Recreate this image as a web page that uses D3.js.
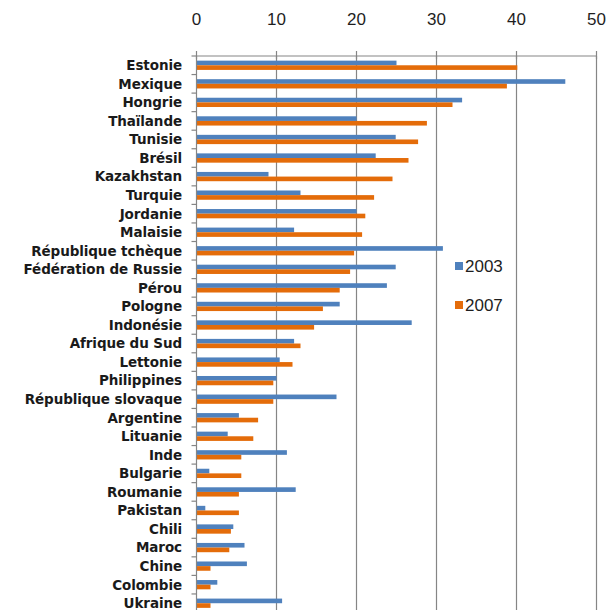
<!DOCTYPE html>
<html>
<head>
<meta charset="utf-8">
<script src="https://cdn.jsdelivr.net/npm/d3@7"></script>
<style>
  body { margin: 0; background: #fff; }
  svg { display: block; }
</style>
</head>
<body>
<div id="chart"></div>
<script>
// countries, top to bottom
const countries = [
  "Estonie", "Mexique", "Hongrie", "Thaïlande", "Tunisie", "Brésil",
  "Kazakhstan", "Turquie", "Jordanie", "Malaisie", "République tchèque",
  "Fédération de Russie", "Pérou", "Pologne", "Indonésie", "Afrique du Sud",
  "Lettonie", "Philippines", "République slovaque", "Argentine", "Lituanie",
  "Inde", "Bulgarie", "Roumanie", "Pakistan", "Chili", "Maroc", "Chine",
  "Colombie", "Ukraine"
]
const years = ["2003", "2007"]
const values2003 = [
  25, 46.1, 33.2, 20, 24.9, 22.4, 9, 13, 20, 12.2, 30.8, 24.9, 23.8, 17.9,
  26.9, 12.2, 10.4, 10, 17.5, 5.3, 3.9, 11.3, 1.6, 12.4, 1.1, 4.6, 6, 6.3,
  2.6, 10.7
]
const values2007 = [
  40.1, 38.8, 32, 28.8, 27.7, 26.5, 24.5, 22.2, 21.1, 20.7, 19.7, 19.2, 17.9,
  15.8, 14.7, 13, 12, 9.6, 9.6, 7.7, 7.1, 5.6, 5.6, 5.3, 5.3, 4.3, 4.1, 1.75,
  1.75, 1.75
]
const xTicks = [0, 10, 20, 30, 40, 50]

const colors = { "2003": "#4f81bd", "2007": "#e46c0a" }

const width = 613
const height = 610
const plotTop = 56
const step = 18.55

const svg = d3.select("#chart")
  .append("svg")
  .attr("width", width)
  .attr("height", height)

const x = d3.scaleLinear().domain([0, 50]).range([196.5, 596.5])

const y = d3.scaleBand()
  .domain(countries)
  .range([plotTop, plotTop + step * countries.length])
  .paddingInner(0.5)
  .paddingOuter(0.25)

const ySub = d3.scaleBand().domain(years).range([0, y.bandwidth()])

const plotBottom = plotTop + step * countries.length

// vertical gridlines
svg.append("g")
  .selectAll("line")
  .data(xTicks.slice(1))
  .enter()
  .append("line")
  .attr("x1", d => x(d))
  .attr("x2", d => x(d))
  .attr("y1", plotTop)
  .attr("y2", plotBottom)
  .attr("stroke", "#858585")
  .attr("stroke-width", 1.2)

// top axis line + ticks
svg.append("line")
  .attr("x1", x(0)).attr("x2", x(50))
  .attr("y1", plotTop).attr("y2", plotTop)
  .attr("stroke", "#858585").attr("stroke-width", 1.2)

svg.append("g")
  .selectAll("line")
  .data(xTicks)
  .enter()
  .append("line")
  .attr("x1", d => x(d)).attr("x2", d => x(d))
  .attr("y1", plotTop - 5).attr("y2", plotTop + 3)
  .attr("stroke", "#858585").attr("stroke-width", 1.2)

svg.append("g")
  .selectAll("text")
  .data(xTicks)
  .enter()
  .append("text")
  .attr("x", d => x(d))
  .attr("y", 25)
  .attr("text-anchor", "middle")
  .attr("font-family", "Liberation Sans, Arial, sans-serif")
  .attr("font-size", "17px")
  .attr("fill", "#1e1e1e")
  .text(d => d)

// bars
const rows = svg.append("g")
  .selectAll("g")
  .data(countries)
  .enter()
  .append("g")
  .attr("transform", d => `translate(0, ${y(d)})`)

rows.selectAll("rect")
  .data((d, i) => [
    { year: "2003", value: values2003[i] },
    { year: "2007", value: values2007[i] }
  ])
  .enter()
  .append("rect")
  .attr("x", x(0))
  .attr("y", d => ySub(d.year))
  .attr("width", d => x(d.value) - x(0))
  .attr("height", ySub.bandwidth())
  .attr("fill", d => colors[d.year])

// left axis line + ticks between categories
svg.append("line")
  .attr("x1", x(0)).attr("x2", x(0))
  .attr("y1", plotTop).attr("y2", plotBottom)
  .attr("stroke", "#858585").attr("stroke-width", 1.2)

svg.append("g")
  .selectAll("line")
  .data(d3.range(countries.length + 1))
  .enter()
  .append("line")
  .attr("x1", x(0) - 5).attr("x2", x(0))
  .attr("y1", i => plotTop + i * step)
  .attr("y2", i => plotTop + i * step)
  .attr("stroke", "#858585").attr("stroke-width", 1.2)

// category labels
svg.append("g")
  .selectAll("text")
  .data(countries)
  .enter()
  .append("text")
  .attr("x", 182)
  .attr("y", d => y(d) + y.bandwidth() / 2)
  .attr("dy", "0.36em")
  .attr("text-anchor", "end")
  .attr("font-family", "DejaVu Sans, sans-serif")
  .attr("font-weight", "bold")
  .attr("font-size", "13.5px")
  .attr("letter-spacing", "-0.1px")
  .attr("fill", "#1a1a1a")
  .text(d => d)

// legend
const legend = svg.append("g")
  .selectAll("g")
  .data(years)
  .enter()
  .append("g")
  .attr("transform", (d, i) => `translate(455, ${266 + i * 39})`)

legend.append("rect")
  .attr("x", 0).attr("y", -4)
  .attr("width", 8).attr("height", 8)
  .attr("fill", d => colors[d])

legend.append("text")
  .attr("x", 10)
  .attr("y", 0)
  .attr("dy", "0.36em")
  .attr("font-family", "Liberation Sans, Arial, sans-serif")
  .attr("font-size", "17px")
  .attr("fill", "#1e1e1e")
  .text(d => d)
</script>
</body>
</html>
